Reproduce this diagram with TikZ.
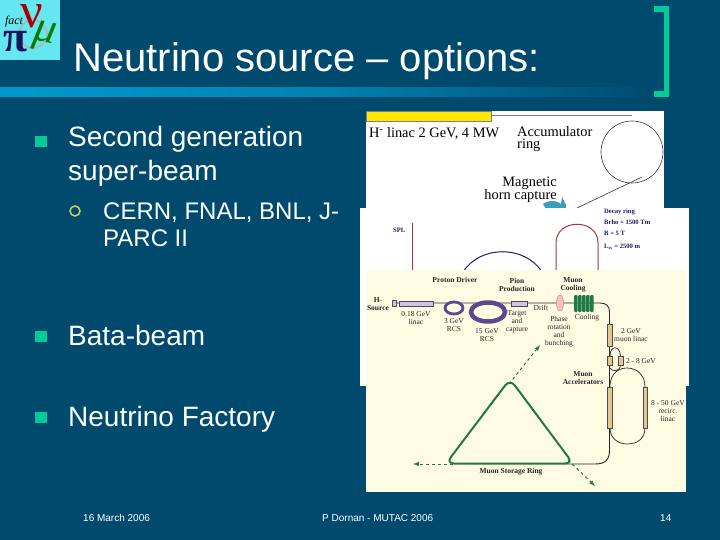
\documentclass[tikz,border=0pt]{standalone}
\usepackage{fontspec}
\setmainfont{Liberation Sans}
\newfontfamily\serifpanel{Liberation Serif}
\definecolor{slidebg}{HTML}{004A6E}
\definecolor{barblue}{HTML}{0099CC}
\definecolor{mint}{HTML}{00CC99}
\definecolor{paleyellow}{HTML}{CCCC66}
\definecolor{logocyan}{HTML}{66E6F0}
\definecolor{cream}{HTML}{FFFBE3}
\definecolor{ringgreen}{HTML}{1F7A45}
\definecolor{tan}{HTML}{E2C993}
\definecolor{lavender}{HTML}{CFC3E6}
\definecolor{ringpurple}{HTML}{5A4A8C}
\definecolor{darkred}{HTML}{A33A3A}
\definecolor{hornteal}{HTML}{3AA0B8}
\definecolor{navy}{HTML}{1A1A70}
\begin{document}
\begin{tikzpicture}[
        x=1pt, y=-1pt,
        title/.style={anchor=base west, inner sep=0pt, text=white, font=\fontsize{40}{40}\selectfont},
        body/.style={anchor=base west, inner sep=0pt, text=white, font=\fontsize{28}{28}\selectfont},
        sub/.style={anchor=base west, inner sep=0pt, text=white, font=\fontsize{24}{24}\selectfont},
        foot/.style={anchor=base west, inner sep=0pt, text=white, font=\fontsize{10}{10}\selectfont},
        big/.style={anchor=base west, inner sep=0pt, text=black, font=\serifpanel\fontsize{14.4}{15}\selectfont},
        tiny/.style={inner sep=0pt, text=black!85, font=\serifpanel\fontsize{7.5}{8}\selectfont},
        tinyb/.style={inner sep=0pt, text=black!85, font=\serifpanel\bfseries\fontsize{7.5}{8}\selectfont},
        decay/.style={anchor=base west, inner sep=0pt, text=navy, font=\serifpanel\bfseries\fontsize{6.6}{8}\selectfont},
        logo/.style={inner sep=0pt, font=\serifpanel\itshape},
        beam/.style={draw=black!85, line width=0.9pt},
        tube/.style={draw=black!70, fill=tan, line width=0.4pt},
        pipe/.style={draw=black!70, fill=lavender, line width=0.4pt},
        store/.style={draw=ringgreen, line width=2pt, rounded corners=8pt},
        flux/.style={->, >=latex, draw=ringgreen, line width=1pt, dashed}
    ]
        \useasboundingbox (0,0) rectangle (720,540);
        \fill[slidebg] (0,0) rectangle (720,540);

        % Rule under the title
        \shade[left color=barblue, right color=slidebg, middle color=barblue!70!slidebg] (0,88) rectangle (655,97);
        \draw[mint, line width=5.5pt] (654,9) -- (666.5,9) -- (666.5,94) -- (654,94);

        % Logo
        \fill[logocyan] (0,0) rectangle (60,60);
        \draw[black!30, line width=1.6pt] (33,34) circle (14);
        \node[logo, text=navy!80!black, font=\serifpanel\bfseries\fontsize{44}{44}\selectfont] (logopi) at (16,42) {π};
        \node[logo, text=red!65!black, font=\serifpanel\fontsize{50}{50}\selectfont] (logonu) at (32,16) {ν};
        \node[logo, rotate=-12, text=green!50!black, font=\serifpanel\itshape\fontsize{44}{44}\selectfont] (logomu) at (44,37) {μ};
        \node[logo, text=black, font=\serifpanel\itshape\fontsize{12}{12}\selectfont] (logofact) at (14,22) {fact};

        % Title and bullets
        \node[title] (titletext) at (73,72) {Neutrino source – options:};
        \fill[mint] (35,136) rectangle (47,147);
        \fill[mint] (35,331) rectangle (47,342);
        \fill[mint] (35,412) rectangle (47,423);
        \draw[paleyellow, line width=1.5pt] (75,211) circle (5);
        \node[body] (second) at (68,147) {Second generation};
        \node[body] (superbeam) at (68,181) {super-beam};
        \node[sub] (labs) at (103,219) {CERN, FNAL, BNL, J-};
        \node[sub] (parc) at (103,246) {PARC II};
        \node[body] (bata) at (68,345) {Bata-beam};
        \node[body] (factory) at (68,426) {Neutrino Factory};

        % Footer
        \node[foot] (date) at (83,521) {16 March 2006};
        \node[foot] (author) at (322,521) {P Dornan - MUTAC 2006};
        \node[foot] (page) at (660,521) {14};

        % Super-beam panel
        \fill[white] (366,111) rectangle (664,215);
        \fill[yellow!90!orange, draw=black!50, line width=0.4pt] (366,111) rectangle (491,121);
        \draw[black!50, line width=0.8pt] (491,115.5) -- (632,115.5);
        \draw[black!80, line width=0.6pt] (632,152) circle (31);
        \draw[black!80, line width=0.6pt] (642,177) -- (577,208);
        \fill[hornteal] (543,204) .. controls (550,199) and (558,201) .. (561,204) -- (562,197) -- (566,205) -- (566,212) -- (548,212) -- cycle;
        \node[big] (linac) at (369,138) {H\textsuperscript{-} linac 2 GeV, 4 MW};
        \node[big] (accum) at (517,136.5) {Accumulator};
        \node[big] (accumring) at (517,149) {ring};
        \node[big, anchor=base east] (magnetic) at (557,187) {Magnetic};
        \node[big, anchor=base east] (horn) at (557,199.5) {horn capture};

        % Beta-beam panel
        \fill[white] (360,208) rectangle (689,386);
        \draw[darkred, line width=1pt] (412,223) -- (412,272);
        \draw[navy, line width=1pt] (463,272) .. controls (480,245) and (525,245) .. (542,272);
        \draw[darkred, line width=1pt] (556,272) -- (556,243) .. controls (556,218) and (598,218) .. (598,243) -- (598,272);
        \node[decay] (spl) at (393,233) {SPL};
        \node[decay] (ringname) at (604,214) {Decay ring};
        \node[decay] (brho) at (604,225) {Brho = 1500 Tm};
        \node[decay] (field) at (604,236) {B = 5 T};
        \node[decay] (length) at (604,248) {L\textsubscript{ss} = 2500 m};

        % Neutrino factory panel
        \fill[cream] (366,270) rectangle (686,492);
        \draw[beam] (396,303) -- (600,303) .. controls (606,303) and (609.5,306) .. (609.5,312) -- (609.5,450)
            .. controls (609.5,460) and (605,464) .. (595,464) -- (565,464);
        \fill[lavender, draw=black!70] (392,300) rectangle (396,306);
        \draw[pipe] (399,301) rectangle (433,306);
        \draw[pipe] (511,301) rectangle (527,306);
        \filldraw[draw=ringpurple, fill=cream, line width=2.8pt] (454,308) ellipse (9 and 6);
        \filldraw[draw=ringpurple, fill=cream, line width=4.5pt] (488,312) ellipse (17 and 9.5);
        \filldraw[draw=darkred!60, fill=pink, line width=0.5pt] (560,303) ellipse (3.5 and 8);
        \foreach \xi in {574,578,582,586,590} {
            \fill[ringgreen, rounded corners=1pt] (\xi,295) rectangle (\xi+3.5,312);
        }
        \draw[tube] (607,324) rectangle (612,346);
        \draw[tube] (607,356) rectangle (612,365);
        \draw[black!85, line width=0.7pt] (610,356) .. controls (610,345) and (620,345) .. (620.5,356);
        \draw[black!85, line width=0.7pt] (620.5,365) .. controls (620,372) and (612,372) .. (610,368);
        \draw[tube] (618,356) rectangle (623,365);
        \draw[black!85, line width=0.7pt] (610,387) .. controls (610,372) and (620,368) .. (627,368)
            .. controls (638,368) and (645,376) .. (645,387);
        \draw[black!85, line width=0.7pt] (610,428) .. controls (610,438) and (618,444) .. (627,444)
            .. controls (638,444) and (645,438) .. (645,428);
        \draw[tube] (607,387) rectangle (612,428);
        \draw[tube] (643,387) rectangle (647.5,428);

        % Storage ring
        \coordinate (apex) at (509,384);
        \coordinate (apextip) at (540,345);
        \coordinate (lefttail) at (453,464);
        \coordinate (lefttip) at (413,464);
        \coordinate (righttail) at (568,460);
        \coordinate (righttip) at (595,486);
        \draw[store] (510,379) -- (446,463.5) -- (573,463.5) -- cycle;
        \draw[flux] (apex) -- (apextip);
        \draw[flux] (lefttail) -- (lefttip);
        \draw[flux] (righttail) -- (righttip);

        % Factory labels
        \node[tinyb] (proton) at (455,280) {Proton Driver};
        \node[tinyb, align=center] (pion) at (517,284.5) {Pion\\Production};
        \node[tinyb, align=center] (muon) at (573,284.5) {Muon\\Cooling};
        \node[tinyb, align=center] (source) at (378,304.5) {H-\\Source};
        \node[tiny, align=center] (lin) at (416,318.5) {0.18 GeV\\linac};
        \node[tiny, align=center] (rcsa) at (454,325.5) {3 GeV\\RCS};
        \node[tiny, align=center] (rcsb) at (487,335.5) {15 GeV\\RCS};
        \node[tiny, align=center] (target) at (517,322) {Target\\and\\capture};
        \node[tiny] (drift) at (541,308) {Drift};
        \node[tiny, align=center] (phase) at (559,331.5) {Phase\\rotation\\and\\bunching};
        \node[tiny] (cool) at (587,318) {Cooling};
        \node[tiny, align=center] (muonlin) at (631,335.5) {2 GeV\\muon linac};
        \node[tiny] (gev) at (641,361) {2 - 8 GeV};
        \node[tinyb, align=center] (accel) at (583,378) {Muon\\Accelerators};
        \node[tiny, align=center] (recirc) at (668,411) {8 - 50 GeV\\recirc.\\linac};
        \node[tinyb] (storage) at (511,472) {Muon Storage Ring};

    \end{tikzpicture}
\end{document}
